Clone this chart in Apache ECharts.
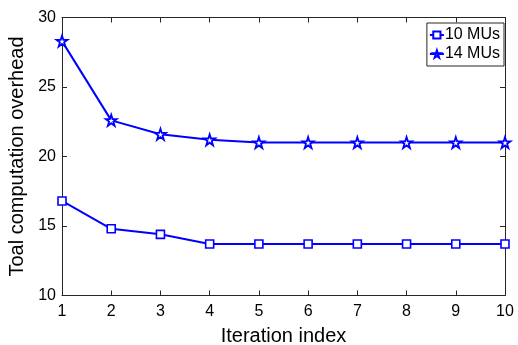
<!DOCTYPE html>
<html>
<head>
<meta charset="utf-8">
<script src="https://cdn.jsdelivr.net/npm/echarts@6/dist/echarts.min.js"></script>
<style>html,body{margin:0;padding:0;background:#fff}#c{width:518px;height:345px}</style>
</head>
<body>
<div id="c"></div>
<script>
const iterations = [1, 2, 3, 4, 5, 6, 7, 8, 9, 10];
const mu10 = [16.8, 14.8, 14.4, 13.7, 13.7, 13.7, 13.7, 13.7, 13.7, 13.7];
const mu14 = [28.3, 22.6, 21.6, 21.2, 21.0, 21.0, 21.0, 21.0, 21.0, 21.0];
const yTicks = [10, 15, 20, 25, 30];
const seriesNames = ['10 MUs', '14 MUs'];

const starPath = 'path://M50,2 L61.5,37 L98,37 L68.5,58.5 L79.5,94 L50,72 L20.5,94 L31.5,58.5 L2,37 L38.5,37 Z';
const axisColor = '#262626';
const font = 'Liberation Sans, Arial, Helvetica, sans-serif';

const chart = echarts.init(document.getElementById('c'));
const baseX = {
  type: 'value', min: 1, max: 10, interval: 1,
  axisLine: { show: true, lineStyle: { color: axisColor, width: 1 } },
  axisTick: { show: true, inside: true, length: 5, lineStyle: { color: axisColor } },
  splitLine: { show: false }
};
const baseY = {
  type: 'value', min: yTicks[0], max: yTicks[yTicks.length - 1], interval: 5,
  axisLine: { show: true, lineStyle: { color: axisColor, width: 1 } },
  axisTick: { show: true, inside: true, length: 5, lineStyle: { color: axisColor } },
  splitLine: { show: false }
};
chart.setOption({
  animation: false,
  textStyle: { fontFamily: font },
  grid: { left: 62, right: 13, top: 17.5, bottom: 49.5, containLabel: false, outerBoundsMode: 'none' },
  legend: {
    data: seriesNames,
    orient: 'vertical',
    right: 14, top: 23,
    itemWidth: 14, itemHeight: 9, itemGap: 3,
    padding: [4, 4, 4, 2],
    borderColor: axisColor, borderWidth: 1,
    backgroundColor: '#fff',
    textStyle: { fontSize: 16, color: '#000', fontFamily: font, padding: [0, 0, 0, -4] }
  },
  xAxis: [
    Object.assign({}, baseX, {
      position: 'bottom',
      name: 'Iteration index', nameLocation: 'middle', nameGap: 31,
      nameTextStyle: { fontSize: 20, color: '#000', fontFamily: font },
      axisLabel: { fontSize: 16, color: '#000', margin: 8, fontFamily: font }
    }),
    Object.assign({}, baseX, { position: 'top', axisLabel: { show: false } })
  ],
  yAxis: [
    Object.assign({}, baseY, {
      position: 'left',
      name: 'Toal computation overhead', nameLocation: 'middle', nameGap: 30,
      nameTextStyle: { fontSize: 20, color: '#000', fontFamily: font },
      axisLabel: { fontSize: 16, color: '#000', margin: 6, fontFamily: font }
    }),
    Object.assign({}, baseY, { position: 'right', axisLabel: { show: false } })
  ],
  series: [
    {
      name: seriesNames[0], type: 'line', xAxisIndex: 0, yAxisIndex: 0,
      data: iterations.map((x, i) => [x, mu10[i]]),
      symbol: 'rect', symbolSize: 8, showAllSymbol: true,
      lineStyle: { color: '#0000ff', width: 2 },
      itemStyle: { color: '#fff', borderColor: '#0000ff', borderWidth: 1.6 }
    },
    {
      name: seriesNames[1], type: 'line', xAxisIndex: 0, yAxisIndex: 0,
      data: iterations.map((x, i) => [x, mu14[i]]),
      symbol: starPath, symbolSize: 11, showAllSymbol: true,
      lineStyle: { color: '#0000ff', width: 2 },
      itemStyle: { color: '#fff', borderColor: '#0000ff', borderWidth: 1.8 }
    }
  ]
});
</script>
</body>
</html>
